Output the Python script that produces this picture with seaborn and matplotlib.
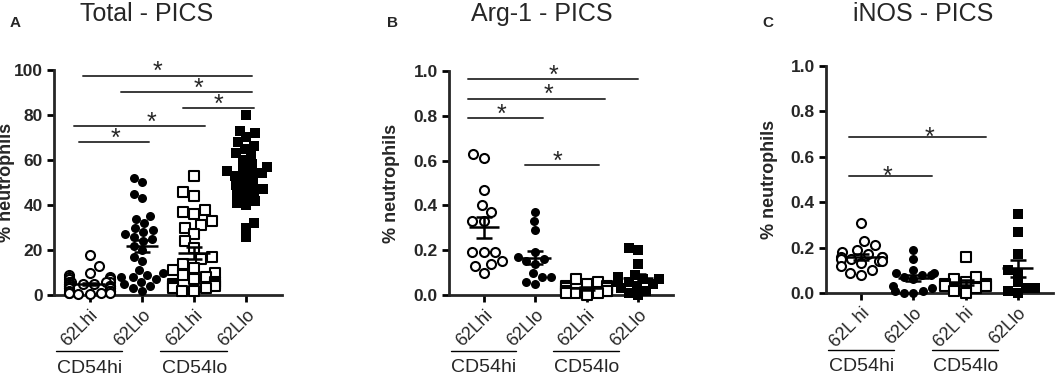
import numpy as np
import pandas as pd
import matplotlib
matplotlib.use('Agg')
import matplotlib.pyplot as plt
import matplotlib.transforms as mtransforms
import seaborn as sns
import warnings

warnings.filterwarnings('ignore')

# groups, in plotting order
cells = ['CD54hi 62Lhi', 'CD54hi 62Llo', 'CD54lo 62Lhi', 'CD54lo 62Llo']
group_names = ['CD54hi', 'CD54lo']

# Panel A - Total PICS (% neutrophils)
total_hi_hi = [18, 13, 10, 9, 8, 8, 7, 7, 7, 6, 6, 6, 6, 5, 5, 5, 5, 4, 4, 4,
               4, 3, 3, 3, 3, 2, 2, 2, 2, 1, 1, 1, 1, 0.5, 0.5]
total_hi_lo = [52, 50, 45, 43, 35, 34, 32, 30, 29, 28, 27, 26, 25, 24, 22, 20,
               17, 15, 11, 10, 9, 8, 8, 7, 6, 5, 4, 3, 2]
total_lo_hi = [53, 46, 44, 38, 37, 36, 33, 31, 30, 27, 24, 21, 17, 16, 14, 12,
               11, 10, 9, 8, 7, 6, 5, 5, 4, 4, 3, 3, 2, 2]
total_lo_lo = [80, 73, 72, 70, 68, 66, 65, 63, 62, 60, 58, 57, 56, 55, 54, 54,
               53, 52, 50, 49, 48, 47, 46, 45, 44, 42, 41, 40, 32, 30, 26]

# Panel B - Arg-1 PICS
arg_hi_hi = [0.63, 0.61, 0.47, 0.40, 0.37, 0.33, 0.33, 0.19, 0.19, 0.19, 0.15,
             0.14, 0.13, 0.10]
arg_hi_lo = [0.37, 0.33, 0.29, 0.19, 0.17, 0.16, 0.15, 0.14, 0.10, 0.08, 0.08,
             0.06, 0.05]
arg_lo_hi = [0.07, 0.06, 0.05, 0.04, 0.04, 0.03, 0.03, 0.02, 0.02, 0.02, 0.01,
             0.01, 0.01, 0.0]
arg_lo_lo = [0.21, 0.20, 0.14, 0.09, 0.08, 0.07, 0.07, 0.06, 0.06, 0.05, 0.04,
             0.03, 0.02, 0.01, 0.0]

# Panel C - iNOS PICS
inos_hi_hi = [0.31, 0.23, 0.21, 0.19, 0.18, 0.17, 0.16, 0.16, 0.16, 0.15, 0.15,
              0.14, 0.14, 0.13, 0.12, 0.10, 0.09, 0.08]
inos_hi_lo = [0.19, 0.15, 0.10, 0.09, 0.09, 0.08, 0.08, 0.07, 0.06, 0.03, 0.02,
              0.01, 0.01, 0.0, 0.0]
inos_lo_hi = [0.16, 0.07, 0.06, 0.05, 0.04, 0.04, 0.03, 0.03, 0.02, 0.01, 0.0]
inos_lo_lo = [0.35, 0.27, 0.17, 0.10, 0.09, 0.05, 0.02, 0.02, 0.01, 0.0]

# tick labels
ticks_ab = ['62Lhi', '62Llo', '62Lhi', '62Llo']
ticks_c = ['62L hi', '62Llo', '62L hi', '62Llo']

# significance bars: (start, end, height) in category / data units
sig_a = [(-0.13, 3.1, 97.5), (0.61, 3.1, 90), (1.78, 3.14, 83),
         (-0.29, 2.2, 75), (-0.21, 1.13, 68)]
star_a = [1.3, 2.08, 2.47, 1.19, 0.5]
sig_b = [(-0.31, 3.0, 0.963), (-0.31, 2.36, 0.877), (-0.31, 1.15, 0.79),
         (0.8, 2.24, 0.58)]
star_b = [1.36, 1.25, 0.35, 1.44]
sig_c = [(-0.23, 2.4, 0.687), (-0.23, 1.35, 0.515)]
star_c = [1.31, 0.5]

W, H = 1057, 376
MARKERS = ['o', 'o', 's', 's']
FILLED = [False, True, False, True]

sns.set_style('ticks')
plt.rcParams['font.family'] = ['Liberation Sans', 'DejaVu Sans']


def make_df(groups):
    rows = []
    for name, vals in zip(cells, groups):
        for v in vals:
            rows.append((name, v))
    return pd.DataFrame(rows, columns=['cell', 'value'])


def draw_panel(ax, groups, ymax, yticks, yfmt, ticklabels, sigs, stars,
               star_off, ylab_x):
    df = make_df(groups)
    for i, name in enumerate(cells):
        sub = df[df.cell == name]
        if FILLED[i]:
            sns.swarmplot(data=sub, x='cell', y='value', order=cells, ax=ax,
                          marker=MARKERS[i], color='black', size=6.5,
                          edgecolor='black', linewidth=0, warn_thresh=1)
        else:
            sns.swarmplot(data=sub, x='cell', y='value', order=cells, ax=ax,
                          marker=MARKERS[i], color='white', size=6.5,
                          edgecolor='black', linewidth=1.5, warn_thresh=1)
        # mean +/- SEM
        vals = np.asarray(groups[i], dtype=float)
        m = vals.mean()
        se = vals.std(ddof=1) / np.sqrt(len(vals))
        ax.hlines(m, i - 0.3, i + 0.3, color='black', lw=1.8, zorder=5)
        ax.errorbar(i, m, yerr=se, color='black', lw=1.8, capsize=6,
                    capthick=1.8, zorder=5)
    for c in ax.collections:
        c.set_clip_on(False)

    ax.set_xlim(-0.68, 3.68)
    ax.set_ylim(0, ymax)
    ax.set_yticks(yticks)
    ax.set_yticklabels([yfmt.format(t) for t in yticks], fontweight='bold',
                       fontsize=12.5)
    ax.set_xticks(range(4))
    ax.set_xticklabels(ticklabels, rotation=45, ha='right',
                       rotation_mode='anchor', fontsize=13)
    ax.set_xlabel('')
    ax.set_ylabel('% neutrophils', fontweight='bold', fontsize=13)
    ax.yaxis.set_label_coords(ylab_x, 0.5)
    sns.despine(ax=ax)
    for s in ['left', 'bottom']:
        ax.spines[s].set_linewidth(2)
    ax.tick_params(width=2, length=5, color='black', pad=3)

    for (x0, x1, y), sx in zip(sigs, stars):
        ax.plot([x0, x1], [y, y], color='#3a3a3a', lw=1.4, clip_on=False)
        ax.text(sx, y + star_off, '*', ha='center', va='baseline',
                fontsize=18, clip_on=False)

    # group labels under the tick labels
    tr = mtransforms.blended_transform_factory(ax.transData, ax.transAxes)
    for g, name in enumerate(group_names):
        c = g * 2
        ax.plot([c - 0.65, c + 0.62], [-0.25, -0.25], color='black', lw=1,
                transform=tr, clip_on=False)
        ax.text(c, -0.325, name, ha='center', va='center', fontsize=14,
                transform=tr)


fig = plt.figure(figsize=(W / 100, H / 100), dpi=100)


def add_ax(left, right, y0, ytop):
    return fig.add_axes([left / W, 1 - y0 / H, (right - left) / W, (y0 - ytop) / H])


ax_a = add_ax(54, 282, 295, 70)
ax_b = add_ax(449, 673, 295, 71)
ax_c = add_ax(826, 1053, 293, 66)

draw_panel(ax_a, [total_hi_hi, total_hi_lo, total_lo_hi, total_lo_lo], 100,
           [0, 20, 40, 60, 80, 100], '{:.0f}', ticks_ab, sig_a, star_a, -1.5,
           -0.17)
draw_panel(ax_b, [arg_hi_hi, arg_hi_lo, arg_lo_hi, arg_lo_lo], 1.0,
           [0, 0.2, 0.4, 0.6, 0.8, 1.0], '{:.1f}', ticks_ab, sig_b, star_b,
           -0.015, -0.22)
draw_panel(ax_c, [inos_hi_hi, inos_hi_lo, inos_lo_hi, inos_lo_lo], 1.0,
           [0, 0.2, 0.4, 0.6, 0.8, 1.0], '{:.1f}', ticks_c, sig_c, star_c,
           -0.035, -0.21)

# panel titles and letters
for x, label in [(147, 'Total - PICS'), (542, 'Arg-1 - PICS'), (923, 'iNOS - PICS')]:
    fig.text(x / W, 1 - 14 / H, label, ha='center', va='center', fontsize=18)
for x, label in [(15, 'A'), (392, 'B'), (768, 'C')]:
    fig.text(x / W, 1 - 23 / H, label, ha='center', va='center', fontsize=11,
             fontweight='bold')

fig.savefig('out.png', dpi=100)
